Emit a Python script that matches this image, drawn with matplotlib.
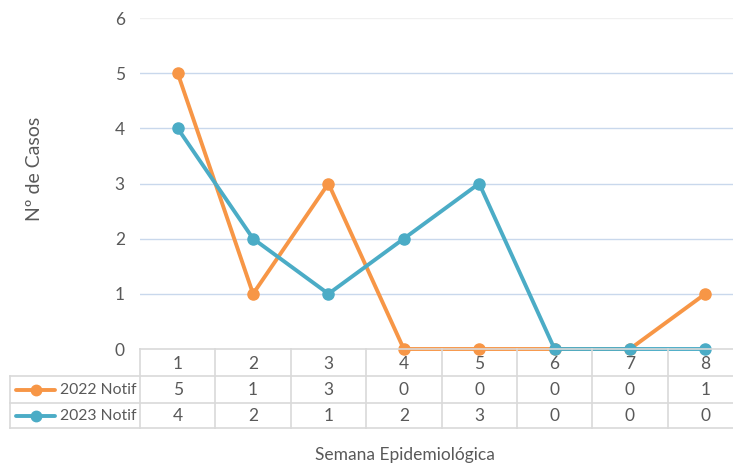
import matplotlib
matplotlib.use("Agg")
import matplotlib.pyplot as plt
from matplotlib.lines import Line2D

semanas = [1, 2, 3, 4, 5, 6, 7, 8]
notif_2022 = [5, 1, 3, 0, 0, 0, 0, 1]
notif_2023 = [4, 2, 1, 2, 3, 0, 0, 0]
series_names = ["2022 Notif", "2023 Notif"]
colors = ["#f79646", "#4bacc6"]

plt.rcParams['font.family'] = ['Lato', 'DejaVu Sans']
text_col = "#595959"
grid_col = "#d9d9d9"
fs = 12.5

W, H = 733, 465
fig = plt.figure(figsize=(W / 100, H / 100), dpi=100)

# plot area (pixel coords from the picture), runs past the right edge like the original
x0, x1 = 140, 743
y0, y6 = 349, 18
ax = fig.add_axes([x0 / W, 1 - y0 / H, (x1 - x0) / W, (y0 - y6) / H])
ax.set_xlim(0.5, len(semanas) + 0.5)
ax.set_ylim(0, 6)

for v in range(1, 6):
    ax.axhline(v, color="#c9d8ec", lw=1.0, zorder=0)
ax.axhline(6, color="#f0f0f0", lw=1.0, zorder=0)

series = [notif_2022, notif_2023]
for vals, c in zip(series, colors):
    ax.plot(semanas, vals, color=c, lw=2.8, marker="o", markersize=8,
            solid_capstyle="round", clip_on=False, zorder=3)

ax.set_yticks(range(0, 7))
ax.set_yticklabels([str(v) for v in range(0, 7)], color=text_col, fontsize=fs)
ax.tick_params(axis="y", length=0, pad=11)
ax.set_xticks([])
for s in ax.spines.values():
    s.set_visible(False)
ax.patch.set_alpha(0)

# data table below the plot
def fx(px):
    return px / W

def fy(py):
    return 1 - py / H

rows = [349, 376, 403, 428]
col_w = (x1 - x0) / len(semanas)
line_kw = dict(color=grid_col, lw=1.2, transform=fig.transFigure)
fig.add_artist(Line2D([fx(x0), fx(x1)], [fy(rows[0]), fy(rows[0])], **line_kw))
for r in rows[1:]:
    fig.add_artist(Line2D([fx(10), fx(x1)], [fy(r), fy(r)], **line_kw))
fig.add_artist(Line2D([fx(10), fx(10)], [fy(rows[1]), fy(rows[3])], **line_kw))
for i in range(len(semanas) + 1):
    xx = x0 + i * col_w
    fig.add_artist(Line2D([fx(xx), fx(xx)], [fy(rows[0]), fy(rows[3])], **line_kw))

for i, s in enumerate(semanas):
    cx = x0 + (i + 0.5) * col_w
    fig.text(fx(cx), fy((rows[0] + rows[1]) / 2 + 1), str(s), ha="center", va="center",
             color=text_col, fontsize=fs)
    for j, vals in enumerate(series):
        fig.text(fx(cx), fy((rows[j + 1] + rows[j + 2]) / 2), str(vals[i]),
                 ha="center", va="center", color=text_col, fontsize=fs)

for j, (name, c) in enumerate(zip(series_names, colors)):
    yy = fy((rows[j + 1] + rows[j + 2]) / 2)
    fig.add_artist(Line2D([fx(16), fx(55)], [yy, yy], color=c, lw=2.8,
                          solid_capstyle="round", transform=fig.transFigure))
    fig.add_artist(Line2D([fx(36)], [yy], color=c, marker="o", markersize=7.5,
                          transform=fig.transFigure))
    fig.text(fx(136), yy, name, ha="right", va="center", color=text_col, fontsize=11.3)

fig.text(fx(34), fy(169), "Nº de Casos", rotation=90, ha="center", va="center",
         color=text_col, fontsize=14)
fig.text(fx(405), fy(455), "Semana Epidemiológica", ha="center", va="center",
         color=text_col, fontsize=fs)

fig.savefig("out.png", dpi=100)
